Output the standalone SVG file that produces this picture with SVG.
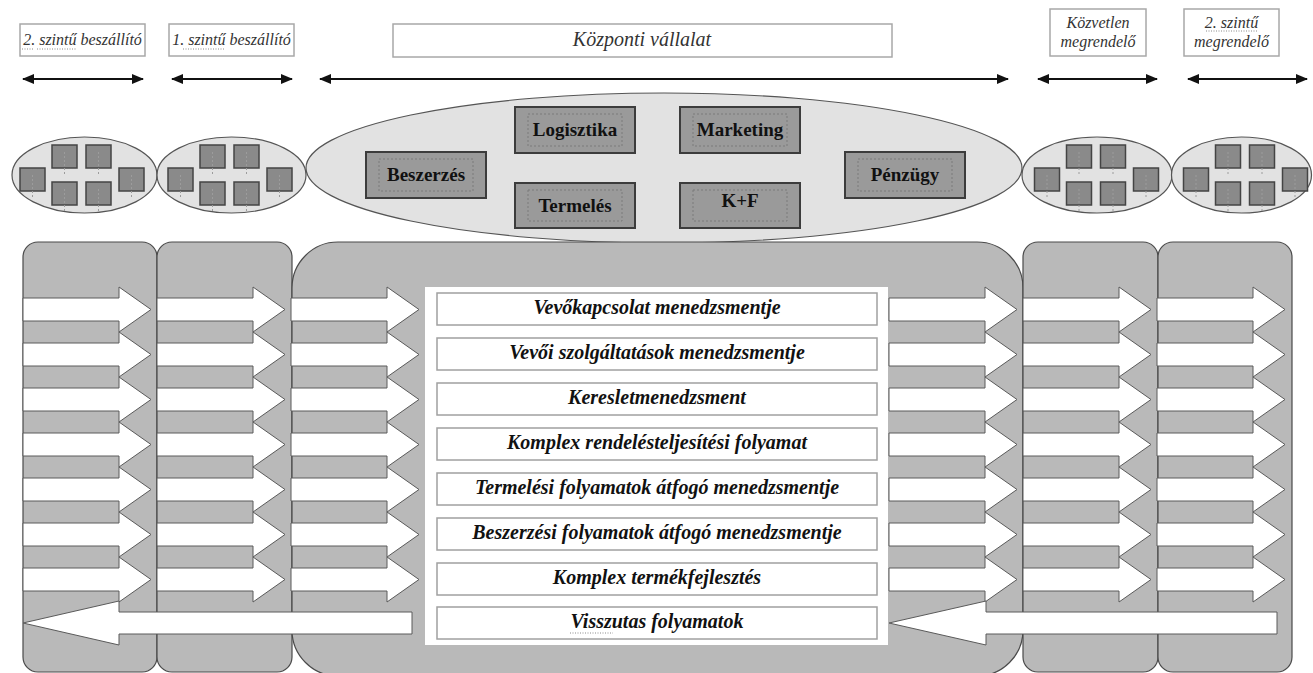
<svg xmlns="http://www.w3.org/2000/svg" width="1313" height="673" viewBox="0 0 1313 673" font-family="Liberation Serif, DejaVu Serif, serif">
  <style>
    .hdr-box { fill: #ffffff; stroke: #a8a8a8; stroke-width: 1.5; }
    .hdr-txt { font-style: italic; font-size: 16px; fill: #333333; text-anchor: middle; }
    .span-line { stroke: #111111; stroke-width: 2; fill: none; }
    .cluster { fill: #e2e2e2; stroke: #555555; stroke-width: 1.2; }
    .unit { fill: #8a8a8a; stroke: #444444; stroke-width: 1.5; }
    .unit-mark { stroke: #9c9c9c; stroke-width: 1; stroke-dasharray: 2 2; }
    .dept { fill: #9a9a9a; stroke: #3c3c3c; stroke-width: 2; }
    .dept-inner { fill: none; stroke: #7a7a7a; stroke-width: 1; stroke-dasharray: 2 2; }
    .dept-txt { font-weight: bold; font-size: 19px; fill: #111111; text-anchor: middle; }
    .panel { fill: #b9b9b9; stroke: #4a4a4a; stroke-width: 1.2; }
    .flow { fill: #ffffff; stroke: #5a5a5a; stroke-width: 1; }
    .proc-box { fill: #ffffff; stroke: #a0a0a0; stroke-width: 1.5; }
    .proc-txt { font-weight: bold; font-style: italic; font-size: 20px; fill: #111111; text-anchor: middle; }
    .spell { stroke: #8a8a8a; stroke-width: 1; stroke-dasharray: 1 1.5; }
  </style>
  <defs>
    <marker id="tip" viewBox="0 0 12 10" refX="11" refY="5" markerWidth="12" markerHeight="10" markerUnits="userSpaceOnUse" orient="auto-start-reverse">
      <path d="M0,0 L12,5 L0,10 Z" fill="#111111"/>
    </marker>
  </defs>

  <rect width="1313" height="673" fill="#ffffff"/>

  <!-- column headers -->
  <g id="hdr-supplier2">
    <rect class="hdr-box" x="20" y="24" width="125" height="32"/>
    <text class="hdr-txt" x="82.5" y="45" style="font-family:'Liberation Serif',serif">2. szintű beszállító</text>
    <line class="spell" x1="22" y1="49" x2="33" y2="49"/>
    <line class="spell" x1="37" y1="49" x2="77" y2="49"/>
  </g>
  <g id="hdr-supplier1">
    <rect class="hdr-box" x="169" y="24" width="125" height="32"/>
    <text class="hdr-txt" x="231.5" y="45" style="font-family:'Liberation Serif',serif">1. szintű beszállító</text>
    <line class="spell" x1="183" y1="49" x2="224" y2="49"/>
  </g>
  <g id="hdr-focal">
    <rect class="hdr-box" x="393" y="24" width="499" height="33"/>
    <text class="hdr-txt" x="642" y="46" style="font-family:'Liberation Serif',serif;font-size:20px">Központi vállalat</text>
  </g>
  <g id="hdr-customer1">
    <rect class="hdr-box" x="1050" y="9" width="96" height="47"/>
    <text class="hdr-txt" x="1098" y="28" style="font-family:'Liberation Serif',serif">Közvetlen</text>
    <text class="hdr-txt" x="1098" y="47" style="font-family:'Liberation Serif',serif">megrendelő</text>
  </g>
  <g id="hdr-customer2">
    <rect class="hdr-box" x="1184" y="9" width="95" height="47"/>
    <text class="hdr-txt" x="1231.5" y="28" style="font-family:'Liberation Serif',serif">2. szintű</text>
    <text class="hdr-txt" x="1231.5" y="47" style="font-family:'Liberation Serif',serif">megrendelő</text>
    <line class="spell" x1="1206" y1="31" x2="1257" y2="31"/>
  </g>

  <!-- span arrows under the headers -->
  <g id="spans">
    <line class="span-line" x1="23" y1="79" x2="143" y2="79" marker-start="url(#tip)" marker-end="url(#tip)"/>
    <line class="span-line" x1="172" y1="79" x2="292" y2="79" marker-start="url(#tip)" marker-end="url(#tip)"/>
    <line class="span-line" x1="320" y1="79" x2="1008" y2="79" marker-start="url(#tip)" marker-end="url(#tip)"/>
    <line class="span-line" x1="1038" y1="79" x2="1157" y2="79" marker-start="url(#tip)" marker-end="url(#tip)"/>
    <line class="span-line" x1="1188" y1="79" x2="1307" y2="79" marker-start="url(#tip)" marker-end="url(#tip)"/>
  </g>

  <!-- partner clusters, each with six small units -->
  <g id="cluster-supplier2">
    <ellipse class="cluster" cx="84.5" cy="175" rx="72.5" ry="38"/>
    <g transform="translate(84.5,175)">
      <rect class="unit" x="-64.5" y="-7" width="25" height="23"/>
      <rect class="unit" x="-32.5" y="-30" width="25" height="23"/>
      <rect class="unit" x="1.5" y="-30" width="25" height="23"/>
      <rect class="unit" x="-32.5" y="7" width="25" height="23"/>
      <rect class="unit" x="1.5" y="7" width="25" height="23"/>
      <rect class="unit" x="34.5" y="-7" width="25" height="23"/>
      <path class="unit-mark" d="M-52,0 V22 M-20,-23 V-1 M14,-23 V-1 M-20,14 V36 M14,14 V36 M47,0 V22"/>
    </g>
  </g>
  <g id="cluster-supplier1">
    <ellipse class="cluster" cx="231.5" cy="175" rx="74.5" ry="38"/>
    <g transform="translate(232.5,175)">
      <rect class="unit" x="-64.5" y="-7" width="25" height="23"/>
      <rect class="unit" x="-32.5" y="-30" width="25" height="23"/>
      <rect class="unit" x="1.5" y="-30" width="25" height="23"/>
      <rect class="unit" x="-32.5" y="7" width="25" height="23"/>
      <rect class="unit" x="1.5" y="7" width="25" height="23"/>
      <rect class="unit" x="34.5" y="-7" width="25" height="23"/>
      <path class="unit-mark" d="M-52,0 V22 M-20,-23 V-1 M14,-23 V-1 M-20,14 V36 M14,14 V36 M47,0 V22"/>
    </g>
  </g>
  <g id="cluster-customer1">
    <ellipse class="cluster" cx="1097" cy="175" rx="75" ry="38"/>
    <g transform="translate(1099,175)">
      <rect class="unit" x="-64.5" y="-7" width="25" height="23"/>
      <rect class="unit" x="-32.5" y="-30" width="25" height="23"/>
      <rect class="unit" x="1.5" y="-30" width="25" height="23"/>
      <rect class="unit" x="-32.5" y="7" width="25" height="23"/>
      <rect class="unit" x="1.5" y="7" width="25" height="23"/>
      <rect class="unit" x="34.5" y="-7" width="25" height="23"/>
      <path class="unit-mark" d="M-52,0 V22 M-20,-23 V-1 M14,-23 V-1 M-20,14 V36 M14,14 V36 M47,0 V22"/>
    </g>
  </g>
  <g id="cluster-customer2">
    <ellipse class="cluster" cx="1241.5" cy="175" rx="70" ry="38"/>
    <g transform="translate(1248,175)">
      <rect class="unit" x="-64.5" y="-7" width="25" height="23"/>
      <rect class="unit" x="-32.5" y="-30" width="25" height="23"/>
      <rect class="unit" x="1.5" y="-30" width="25" height="23"/>
      <rect class="unit" x="-32.5" y="7" width="25" height="23"/>
      <rect class="unit" x="1.5" y="7" width="25" height="23"/>
      <rect class="unit" x="34.5" y="-7" width="25" height="23"/>
      <path class="unit-mark" d="M-52,0 V22 M-20,-23 V-1 M14,-23 V-1 M-20,14 V36 M14,14 V36 M47,0 V22"/>
    </g>
  </g>

  <!-- focal company with its departments -->
  <g id="focal-company">
    <ellipse class="cluster" cx="664" cy="168" rx="358" ry="75"/>
  </g>
  <g id="dept-beszerzes">
    <rect class="dept" x="366" y="152" width="120" height="46"/>
    <rect class="dept-inner" x="379" y="159" width="94" height="32"/>
    <text class="dept-txt" x="426" y="181" style="font-family:'Liberation Serif',serif">Beszerzés</text>
  </g>
  <g id="dept-logisztika">
    <rect class="dept" x="515" y="107" width="120" height="46"/>
    <rect class="dept-inner" x="528" y="114" width="94" height="32"/>
    <text class="dept-txt" x="575" y="136" style="font-family:'Liberation Serif',serif">Logisztika</text>
  </g>
  <g id="dept-termeles">
    <rect class="dept" x="515" y="183" width="120" height="45"/>
    <rect class="dept-inner" x="528" y="190" width="94" height="31"/>
    <text class="dept-txt" x="575" y="212" style="font-family:'Liberation Serif',serif">Termelés</text>
  </g>
  <g id="dept-marketing">
    <rect class="dept" x="680" y="107" width="120" height="46"/>
    <rect class="dept-inner" x="693" y="114" width="94" height="32"/>
    <text class="dept-txt" x="740" y="136" style="font-family:'Liberation Serif',serif">Marketing</text>
  </g>
  <g id="dept-kf">
    <rect class="dept" x="680" y="183" width="120" height="45"/>
    <rect class="dept-inner" x="693" y="190" width="94" height="31"/>
    <text class="dept-txt" x="740" y="207" style="font-family:'Liberation Serif',serif">K+F</text>
  </g>
  <g id="dept-penzugy">
    <rect class="dept" x="845" y="152" width="120" height="46"/>
    <rect class="dept-inner" x="858" y="159" width="94" height="32"/>
    <text class="dept-txt" x="905" y="181" style="font-family:'Liberation Serif',serif">Pénzügy</text>
  </g>

  <!-- supply chain columns -->
  <g id="col-supplier2"><rect class="panel" x="23" y="242" width="134" height="430" rx="15"/></g>
  <g id="col-supplier1"><rect class="panel" x="157" y="242" width="135" height="430" rx="15"/></g>
  <g id="col-focal"><rect class="panel" x="292" y="242" width="731" height="434" rx="46"/></g>
  <g id="col-customer1"><rect class="panel" x="1023" y="242" width="135" height="430" rx="15"/></g>
  <g id="col-customer2"><rect class="panel" x="1158" y="242" width="134" height="430" rx="15"/></g>

  <!-- business processes -->
  <g id="processes">
    <rect x="425" y="287" width="463" height="358" fill="#ffffff"/>
    <g id="proc-1"><rect class="proc-box" x="437" y="293" width="440" height="32"/><text class="proc-txt" x="657" y="314" style="font-family:'Liberation Serif',serif">Vevőkapcsolat menedzsmentje</text></g>
    <g id="proc-2"><rect class="proc-box" x="437" y="338" width="440" height="32"/><text class="proc-txt" x="657" y="359" style="font-family:'Liberation Serif',serif">Vevői szolgáltatások menedzsmentje</text></g>
    <g id="proc-3"><rect class="proc-box" x="437" y="383" width="440" height="32"/><text class="proc-txt" x="657" y="404" style="font-family:'Liberation Serif',serif">Keresletmenedzsment</text></g>
    <g id="proc-4"><rect class="proc-box" x="437" y="428" width="440" height="32"/><text class="proc-txt" x="657" y="449" style="font-family:'Liberation Serif',serif">Komplex rendelésteljesítési folyamat</text></g>
    <g id="proc-5"><rect class="proc-box" x="437" y="473" width="440" height="32"/><text class="proc-txt" x="657" y="494" style="font-family:'Liberation Serif',serif">Termelési folyamatok átfogó menedzsmentje</text></g>
    <g id="proc-6"><rect class="proc-box" x="437" y="518" width="440" height="32"/><text class="proc-txt" x="657" y="539" style="font-family:'Liberation Serif',serif">Beszerzési folyamatok átfogó menedzsmentje</text></g>
    <g id="proc-7"><rect class="proc-box" x="437" y="563" width="440" height="32"/><text class="proc-txt" x="657" y="584" style="font-family:'Liberation Serif',serif">Komplex termékfejlesztés</text></g>
    <g id="proc-8"><rect class="proc-box" x="437" y="607" width="440" height="32"/><text class="proc-txt" x="657" y="628" style="font-family:'Liberation Serif',serif">Visszutas folyamatok</text><line class="spell" x1="570" y1="633" x2="613" y2="633"/></g>
  </g>

  <!-- material and information flows: seven forward block arrows per column, one return arrow per side -->
  <g id="flows">
    <path class="flow" d="M23,298 h96 v-11 l32,22.5 l-32,22.5 v-11 h-96 z m0,45 h96 v-11 l32,22.5 l-32,22.5 v-11 h-96 z m0,45 h96 v-11 l32,22.5 l-32,22.5 v-11 h-96 z m0,45 h96 v-11 l32,22.5 l-32,22.5 v-11 h-96 z m0,45 h96 v-11 l32,22.5 l-32,22.5 v-11 h-96 z m0,45 h96 v-11 l32,22.5 l-32,22.5 v-11 h-96 z m0,45 h96 v-11 l32,22.5 l-32,22.5 v-11 h-96 z"/>
    <path class="flow" d="M157,298 h96 v-11 l32,22.5 l-32,22.5 v-11 h-96 z m0,45 h96 v-11 l32,22.5 l-32,22.5 v-11 h-96 z m0,45 h96 v-11 l32,22.5 l-32,22.5 v-11 h-96 z m0,45 h96 v-11 l32,22.5 l-32,22.5 v-11 h-96 z m0,45 h96 v-11 l32,22.5 l-32,22.5 v-11 h-96 z m0,45 h96 v-11 l32,22.5 l-32,22.5 v-11 h-96 z m0,45 h96 v-11 l32,22.5 l-32,22.5 v-11 h-96 z"/>
    <path class="flow" d="M291,298 h96 v-11 l32,22.5 l-32,22.5 v-11 h-96 z m0,45 h96 v-11 l32,22.5 l-32,22.5 v-11 h-96 z m0,45 h96 v-11 l32,22.5 l-32,22.5 v-11 h-96 z m0,45 h96 v-11 l32,22.5 l-32,22.5 v-11 h-96 z m0,45 h96 v-11 l32,22.5 l-32,22.5 v-11 h-96 z m0,45 h96 v-11 l32,22.5 l-32,22.5 v-11 h-96 z m0,45 h96 v-11 l32,22.5 l-32,22.5 v-11 h-96 z"/>
    <path class="flow" d="M889,298 h96 v-11 l32,22.5 l-32,22.5 v-11 h-96 z m0,45 h96 v-11 l32,22.5 l-32,22.5 v-11 h-96 z m0,45 h96 v-11 l32,22.5 l-32,22.5 v-11 h-96 z m0,45 h96 v-11 l32,22.5 l-32,22.5 v-11 h-96 z m0,45 h96 v-11 l32,22.5 l-32,22.5 v-11 h-96 z m0,45 h96 v-11 l32,22.5 l-32,22.5 v-11 h-96 z m0,45 h96 v-11 l32,22.5 l-32,22.5 v-11 h-96 z"/>
    <path class="flow" d="M1023,298 h96 v-11 l32,22.5 l-32,22.5 v-11 h-96 z m0,45 h96 v-11 l32,22.5 l-32,22.5 v-11 h-96 z m0,45 h96 v-11 l32,22.5 l-32,22.5 v-11 h-96 z m0,45 h96 v-11 l32,22.5 l-32,22.5 v-11 h-96 z m0,45 h96 v-11 l32,22.5 l-32,22.5 v-11 h-96 z m0,45 h96 v-11 l32,22.5 l-32,22.5 v-11 h-96 z m0,45 h96 v-11 l32,22.5 l-32,22.5 v-11 h-96 z"/>
    <path class="flow" d="M1157,298 h96 v-11 l32,22.5 l-32,22.5 v-11 h-96 z m0,45 h96 v-11 l32,22.5 l-32,22.5 v-11 h-96 z m0,45 h96 v-11 l32,22.5 l-32,22.5 v-11 h-96 z m0,45 h96 v-11 l32,22.5 l-32,22.5 v-11 h-96 z m0,45 h96 v-11 l32,22.5 l-32,22.5 v-11 h-96 z m0,45 h96 v-11 l32,22.5 l-32,22.5 v-11 h-96 z m0,45 h96 v-11 l32,22.5 l-32,22.5 v-11 h-96 z"/>
    <path class="flow" d="M412,612 H119 V601 L23,623 L119,645 V634 H412 Z"/>
    <path class="flow" d="M1277,612 H986 V601 L889,623 L986,645 V634 H1277 Z"/>
  </g>
</svg>
